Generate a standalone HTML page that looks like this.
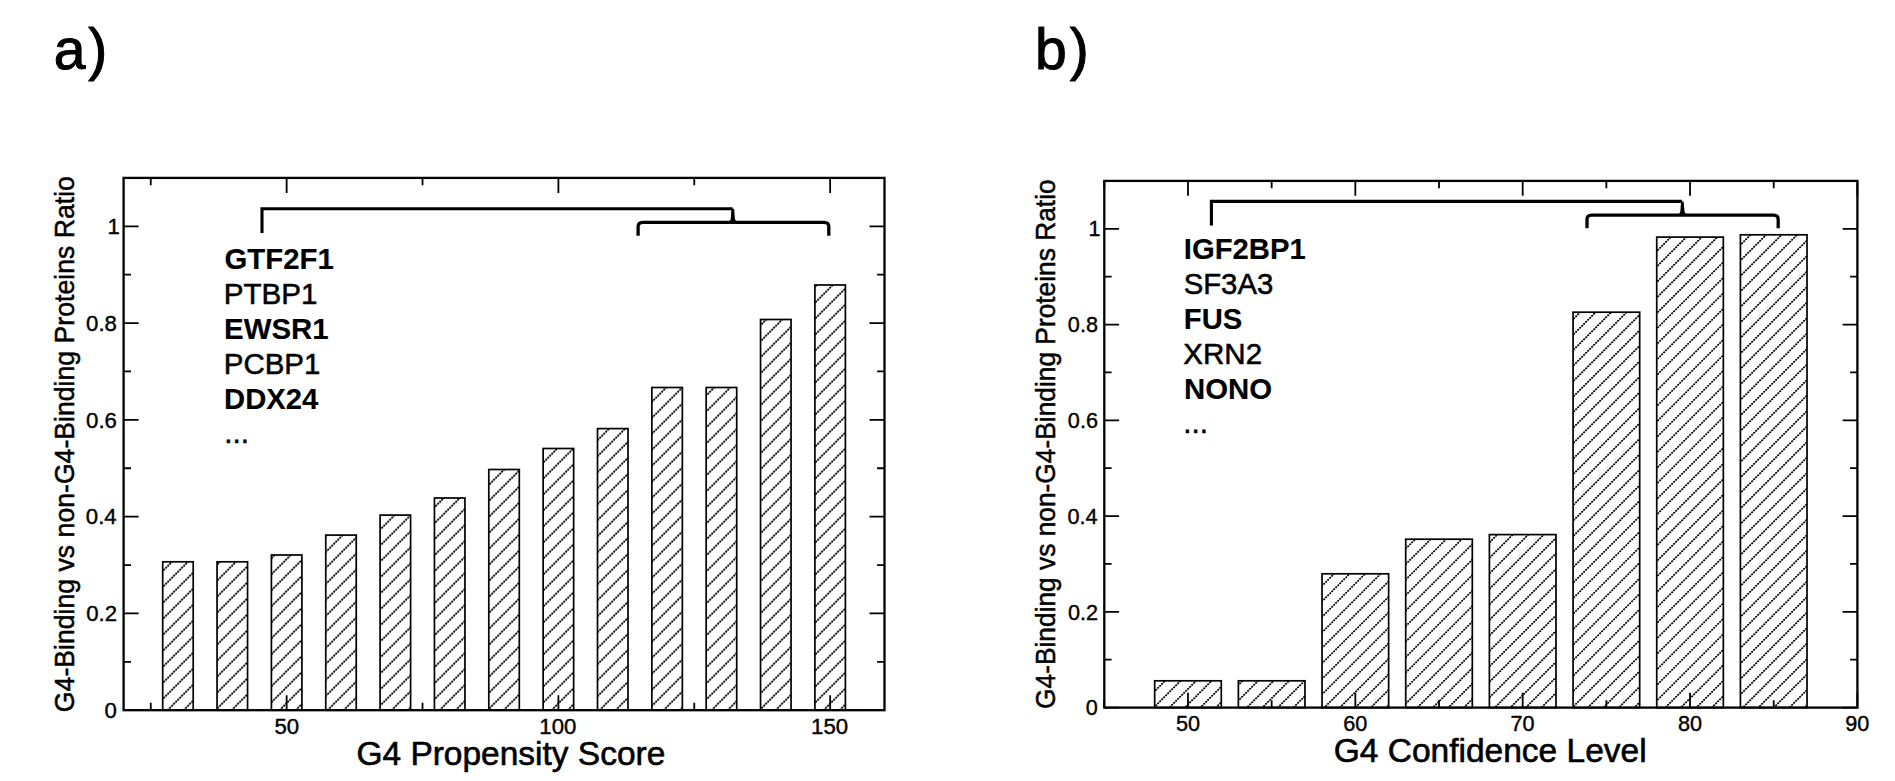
<!DOCTYPE html>
<html lang="en"><head><meta charset="utf-8"><title>G4-binding protein ratios</title>
<style>html,body{margin:0;padding:0;background:#fff}body{width:1895px;height:781px;overflow:hidden}svg{display:block}text{fill:#000;stroke:#000;stroke-linejoin:round}</style>
</head><body>
<svg width="1895" height="781" viewBox="0 0 1895 781" font-family="'Liberation Sans', Arial, Helvetica, sans-serif">
<rect width="1895" height="781" fill="#fff"/>
<clipPath id="clipA">
<rect x="162.70" y="561.80" width="30.50" height="148.40"/>
<rect x="217.05" y="561.80" width="30.50" height="148.40"/>
<rect x="271.40" y="555.00" width="30.50" height="155.20"/>
<rect x="325.75" y="535.10" width="30.50" height="175.10"/>
<rect x="380.10" y="515.10" width="30.50" height="195.10"/>
<rect x="434.45" y="498.00" width="30.50" height="212.20"/>
<rect x="488.80" y="469.50" width="30.50" height="240.70"/>
<rect x="543.15" y="448.50" width="30.50" height="261.70"/>
<rect x="597.50" y="428.60" width="30.50" height="281.60"/>
<rect x="651.85" y="387.50" width="30.50" height="322.70"/>
<rect x="706.20" y="387.50" width="30.50" height="322.70"/>
<rect x="760.55" y="319.50" width="30.50" height="390.70"/>
<rect x="814.90" y="285.00" width="30.50" height="425.20"/>
</clipPath>
<g clip-path="url(#clipA)" stroke="#000" stroke-width="1.85" stroke-linecap="round" stroke-dasharray="0.4 2.4284" fill="none">
<path d="M160.00 573.80L174.00 559.80"/>
<path d="M160.00 589.80L190.00 559.80"/>
<path d="M160.00 605.80L195.20 570.60"/>
<path d="M160.00 621.80L195.20 586.60"/>
<path d="M160.00 637.80L195.20 602.60"/>
<path d="M160.00 653.80L195.20 618.60"/>
<path d="M160.00 669.80L195.20 634.60"/>
<path d="M160.00 685.80L195.20 650.60"/>
<path d="M160.00 701.80L195.20 666.60"/>
<path d="M164.00 713.80L195.20 682.60"/>
<path d="M180.00 713.80L195.20 698.60"/>
<path d="M214.00 567.80L222.00 559.80"/>
<path d="M214.00 583.80L238.00 559.80"/>
<path d="M214.00 599.80L249.55 564.25"/>
<path d="M214.00 615.80L249.55 580.25"/>
<path d="M214.00 631.80L249.55 596.25"/>
<path d="M214.00 647.80L249.55 612.25"/>
<path d="M214.00 663.80L249.55 628.25"/>
<path d="M214.00 679.80L249.55 644.25"/>
<path d="M214.00 695.80L249.55 660.25"/>
<path d="M214.00 711.80L249.55 676.25"/>
<path d="M228.00 713.80L249.55 692.25"/>
<path d="M268.00 561.80L276.80 553.00"/>
<path d="M268.00 577.80L292.80 553.00"/>
<path d="M268.00 593.80L303.90 557.90"/>
<path d="M268.00 609.80L303.90 573.90"/>
<path d="M268.00 625.80L303.90 589.90"/>
<path d="M268.00 641.80L303.90 605.90"/>
<path d="M268.00 657.80L303.90 621.90"/>
<path d="M268.00 673.80L303.90 637.90"/>
<path d="M268.00 689.80L303.90 653.90"/>
<path d="M268.00 705.80L303.90 669.90"/>
<path d="M276.00 713.80L303.90 685.90"/>
<path d="M292.00 713.80L303.90 701.90"/>
<path d="M322.00 539.80L328.70 533.10"/>
<path d="M322.00 555.80L344.70 533.10"/>
<path d="M322.00 571.80L358.25 535.55"/>
<path d="M322.00 587.80L358.25 551.55"/>
<path d="M322.00 603.80L358.25 567.55"/>
<path d="M322.00 619.80L358.25 583.55"/>
<path d="M322.00 635.80L358.25 599.55"/>
<path d="M322.00 651.80L358.25 615.55"/>
<path d="M322.00 667.80L358.25 631.55"/>
<path d="M322.00 683.80L358.25 647.55"/>
<path d="M322.00 699.80L358.25 663.55"/>
<path d="M324.00 713.80L358.25 679.55"/>
<path d="M340.00 713.80L358.25 695.55"/>
<path d="M378.00 531.80L396.70 513.10"/>
<path d="M378.00 547.80L412.60 513.20"/>
<path d="M378.00 563.80L412.60 529.20"/>
<path d="M378.00 579.80L412.60 545.20"/>
<path d="M378.00 595.80L412.60 561.20"/>
<path d="M378.00 611.80L412.60 577.20"/>
<path d="M378.00 627.80L412.60 593.20"/>
<path d="M378.00 643.80L412.60 609.20"/>
<path d="M378.00 659.80L412.60 625.20"/>
<path d="M378.00 675.80L412.60 641.20"/>
<path d="M378.00 691.80L412.60 657.20"/>
<path d="M378.00 707.80L412.60 673.20"/>
<path d="M388.00 713.80L412.60 689.20"/>
<path d="M404.00 713.80L412.60 705.20"/>
<path d="M432.00 509.80L445.80 496.00"/>
<path d="M432.00 525.80L461.80 496.00"/>
<path d="M432.00 541.80L466.95 506.85"/>
<path d="M432.00 557.80L466.95 522.85"/>
<path d="M432.00 573.80L466.95 538.85"/>
<path d="M432.00 589.80L466.95 554.85"/>
<path d="M432.00 605.80L466.95 570.85"/>
<path d="M432.00 621.80L466.95 586.85"/>
<path d="M432.00 637.80L466.95 602.85"/>
<path d="M432.00 653.80L466.95 618.85"/>
<path d="M432.00 669.80L466.95 634.85"/>
<path d="M432.00 685.80L466.95 650.85"/>
<path d="M432.00 701.80L466.95 666.85"/>
<path d="M436.00 713.80L466.95 682.85"/>
<path d="M452.00 713.80L466.95 698.85"/>
<path d="M486.00 487.80L506.30 467.50"/>
<path d="M486.00 503.80L521.30 468.50"/>
<path d="M486.00 519.80L521.30 484.50"/>
<path d="M486.00 535.80L521.30 500.50"/>
<path d="M486.00 551.80L521.30 516.50"/>
<path d="M486.00 567.80L521.30 532.50"/>
<path d="M486.00 583.80L521.30 548.50"/>
<path d="M486.00 599.80L521.30 564.50"/>
<path d="M486.00 615.80L521.30 580.50"/>
<path d="M486.00 631.80L521.30 596.50"/>
<path d="M486.00 647.80L521.30 612.50"/>
<path d="M486.00 663.80L521.30 628.50"/>
<path d="M486.00 679.80L521.30 644.50"/>
<path d="M486.00 695.80L521.30 660.50"/>
<path d="M486.00 711.80L521.30 676.50"/>
<path d="M500.00 713.80L521.30 692.50"/>
<path d="M540.00 465.80L559.30 446.50"/>
<path d="M540.00 481.80L575.30 446.50"/>
<path d="M540.00 497.80L575.65 462.15"/>
<path d="M540.00 513.80L575.65 478.15"/>
<path d="M540.00 529.80L575.65 494.15"/>
<path d="M540.00 545.80L575.65 510.15"/>
<path d="M540.00 561.80L575.65 526.15"/>
<path d="M540.00 577.80L575.65 542.15"/>
<path d="M540.00 593.80L575.65 558.15"/>
<path d="M540.00 609.80L575.65 574.15"/>
<path d="M540.00 625.80L575.65 590.15"/>
<path d="M540.00 641.80L575.65 606.15"/>
<path d="M540.00 657.80L575.65 622.15"/>
<path d="M540.00 673.80L575.65 638.15"/>
<path d="M540.00 689.80L575.65 654.15"/>
<path d="M540.00 705.80L575.65 670.15"/>
<path d="M548.00 713.80L575.65 686.15"/>
<path d="M564.00 713.80L575.65 702.15"/>
<path d="M594.00 443.80L611.20 426.60"/>
<path d="M594.00 459.80L627.20 426.60"/>
<path d="M594.00 475.80L630.00 439.80"/>
<path d="M594.00 491.80L630.00 455.80"/>
<path d="M594.00 507.80L630.00 471.80"/>
<path d="M594.00 523.80L630.00 487.80"/>
<path d="M594.00 539.80L630.00 503.80"/>
<path d="M594.00 555.80L630.00 519.80"/>
<path d="M594.00 571.80L630.00 535.80"/>
<path d="M594.00 587.80L630.00 551.80"/>
<path d="M594.00 603.80L630.00 567.80"/>
<path d="M594.00 619.80L630.00 583.80"/>
<path d="M594.00 635.80L630.00 599.80"/>
<path d="M594.00 651.80L630.00 615.80"/>
<path d="M594.00 667.80L630.00 631.80"/>
<path d="M594.00 683.80L630.00 647.80"/>
<path d="M594.00 699.80L630.00 663.80"/>
<path d="M596.00 713.80L630.00 679.80"/>
<path d="M612.00 713.80L630.00 695.80"/>
<path d="M648.00 405.80L668.30 385.50"/>
<path d="M648.00 421.80L684.30 385.50"/>
<path d="M648.00 437.80L684.35 401.45"/>
<path d="M648.00 453.80L684.35 417.45"/>
<path d="M648.00 469.80L684.35 433.45"/>
<path d="M648.00 485.80L684.35 449.45"/>
<path d="M648.00 501.80L684.35 465.45"/>
<path d="M648.00 517.80L684.35 481.45"/>
<path d="M648.00 533.80L684.35 497.45"/>
<path d="M648.00 549.80L684.35 513.45"/>
<path d="M648.00 565.80L684.35 529.45"/>
<path d="M648.00 581.80L684.35 545.45"/>
<path d="M648.00 597.80L684.35 561.45"/>
<path d="M648.00 613.80L684.35 577.45"/>
<path d="M648.00 629.80L684.35 593.45"/>
<path d="M648.00 645.80L684.35 609.45"/>
<path d="M648.00 661.80L684.35 625.45"/>
<path d="M648.00 677.80L684.35 641.45"/>
<path d="M648.00 693.80L684.35 657.45"/>
<path d="M648.00 709.80L684.35 673.45"/>
<path d="M660.00 713.80L684.35 689.45"/>
<path d="M676.00 713.80L684.35 705.45"/>
<path d="M704.00 397.80L716.30 385.50"/>
<path d="M704.00 413.80L732.30 385.50"/>
<path d="M704.00 429.80L738.70 395.10"/>
<path d="M704.00 445.80L738.70 411.10"/>
<path d="M704.00 461.80L738.70 427.10"/>
<path d="M704.00 477.80L738.70 443.10"/>
<path d="M704.00 493.80L738.70 459.10"/>
<path d="M704.00 509.80L738.70 475.10"/>
<path d="M704.00 525.80L738.70 491.10"/>
<path d="M704.00 541.80L738.70 507.10"/>
<path d="M704.00 557.80L738.70 523.10"/>
<path d="M704.00 573.80L738.70 539.10"/>
<path d="M704.00 589.80L738.70 555.10"/>
<path d="M704.00 605.80L738.70 571.10"/>
<path d="M704.00 621.80L738.70 587.10"/>
<path d="M704.00 637.80L738.70 603.10"/>
<path d="M704.00 653.80L738.70 619.10"/>
<path d="M704.00 669.80L738.70 635.10"/>
<path d="M704.00 685.80L738.70 651.10"/>
<path d="M704.00 701.80L738.70 667.10"/>
<path d="M708.00 713.80L738.70 683.10"/>
<path d="M724.00 713.80L738.70 699.10"/>
<path d="M758.00 327.80L768.30 317.50"/>
<path d="M758.00 343.80L784.30 317.50"/>
<path d="M758.00 359.80L793.05 324.75"/>
<path d="M758.00 375.80L793.05 340.75"/>
<path d="M758.00 391.80L793.05 356.75"/>
<path d="M758.00 407.80L793.05 372.75"/>
<path d="M758.00 423.80L793.05 388.75"/>
<path d="M758.00 439.80L793.05 404.75"/>
<path d="M758.00 455.80L793.05 420.75"/>
<path d="M758.00 471.80L793.05 436.75"/>
<path d="M758.00 487.80L793.05 452.75"/>
<path d="M758.00 503.80L793.05 468.75"/>
<path d="M758.00 519.80L793.05 484.75"/>
<path d="M758.00 535.80L793.05 500.75"/>
<path d="M758.00 551.80L793.05 516.75"/>
<path d="M758.00 567.80L793.05 532.75"/>
<path d="M758.00 583.80L793.05 548.75"/>
<path d="M758.00 599.80L793.05 564.75"/>
<path d="M758.00 615.80L793.05 580.75"/>
<path d="M758.00 631.80L793.05 596.75"/>
<path d="M758.00 647.80L793.05 612.75"/>
<path d="M758.00 663.80L793.05 628.75"/>
<path d="M758.00 679.80L793.05 644.75"/>
<path d="M758.00 695.80L793.05 660.75"/>
<path d="M758.00 711.80L793.05 676.75"/>
<path d="M772.00 713.80L793.05 692.75"/>
<path d="M812.00 289.80L818.80 283.00"/>
<path d="M812.00 305.80L834.80 283.00"/>
<path d="M812.00 321.80L847.40 286.40"/>
<path d="M812.00 337.80L847.40 302.40"/>
<path d="M812.00 353.80L847.40 318.40"/>
<path d="M812.00 369.80L847.40 334.40"/>
<path d="M812.00 385.80L847.40 350.40"/>
<path d="M812.00 401.80L847.40 366.40"/>
<path d="M812.00 417.80L847.40 382.40"/>
<path d="M812.00 433.80L847.40 398.40"/>
<path d="M812.00 449.80L847.40 414.40"/>
<path d="M812.00 465.80L847.40 430.40"/>
<path d="M812.00 481.80L847.40 446.40"/>
<path d="M812.00 497.80L847.40 462.40"/>
<path d="M812.00 513.80L847.40 478.40"/>
<path d="M812.00 529.80L847.40 494.40"/>
<path d="M812.00 545.80L847.40 510.40"/>
<path d="M812.00 561.80L847.40 526.40"/>
<path d="M812.00 577.80L847.40 542.40"/>
<path d="M812.00 593.80L847.40 558.40"/>
<path d="M812.00 609.80L847.40 574.40"/>
<path d="M812.00 625.80L847.40 590.40"/>
<path d="M812.00 641.80L847.40 606.40"/>
<path d="M812.00 657.80L847.40 622.40"/>
<path d="M812.00 673.80L847.40 638.40"/>
<path d="M812.00 689.80L847.40 654.40"/>
<path d="M812.00 705.80L847.40 670.40"/>
<path d="M820.00 713.80L847.40 686.40"/>
<path d="M836.00 713.80L847.40 702.40"/>
</g>
<g fill="none" stroke="#000" stroke-width="1.7">
<rect x="162.70" y="561.80" width="30.50" height="148.40"/>
<rect x="217.05" y="561.80" width="30.50" height="148.40"/>
<rect x="271.40" y="555.00" width="30.50" height="155.20"/>
<rect x="325.75" y="535.10" width="30.50" height="175.10"/>
<rect x="380.10" y="515.10" width="30.50" height="195.10"/>
<rect x="434.45" y="498.00" width="30.50" height="212.20"/>
<rect x="488.80" y="469.50" width="30.50" height="240.70"/>
<rect x="543.15" y="448.50" width="30.50" height="261.70"/>
<rect x="597.50" y="428.60" width="30.50" height="281.60"/>
<rect x="651.85" y="387.50" width="30.50" height="322.70"/>
<rect x="706.20" y="387.50" width="30.50" height="322.70"/>
<rect x="760.55" y="319.50" width="30.50" height="390.70"/>
<rect x="814.90" y="285.00" width="30.50" height="425.20"/>
</g>
<path d="M286.65 710.20v-15.0M286.65 177.90v15.0M558.40 710.20v-15.0M558.40 177.90v15.0M830.15 710.20v-15.0M830.15 177.90v15.0M150.77 710.20v-7.4M150.77 177.90v7.4M422.52 710.20v-7.4M422.52 177.90v7.4M694.27 710.20v-7.4M694.27 177.90v7.4M123.60 710.20h15.0M884.50 710.20h-15.0M123.60 661.81h7.4M884.50 661.81h-7.4M123.60 613.42h15.0M884.50 613.42h-15.0M123.60 565.03h7.4M884.50 565.03h-7.4M123.60 516.64h15.0M884.50 516.64h-15.0M123.60 468.25h7.4M884.50 468.25h-7.4M123.60 419.85h15.0M884.50 419.85h-15.0M123.60 371.46h7.4M884.50 371.46h-7.4M123.60 323.07h15.0M884.50 323.07h-15.0M123.60 274.68h7.4M884.50 274.68h-7.4M123.60 226.29h15.0M884.50 226.29h-15.0M123.60 177.90h7.4M884.50 177.90h-7.4" stroke="#000" stroke-width="1.8" fill="none"/>
<rect x="123.60" y="177.90" width="760.90" height="532.30" fill="none" stroke="#000" stroke-width="2.3"/>
<clipPath id="clipB">
<rect x="1154.68" y="680.80" width="66.60" height="26.80"/>
<rect x="1238.36" y="680.80" width="66.60" height="26.80"/>
<rect x="1322.03" y="573.80" width="66.60" height="133.80"/>
<rect x="1405.71" y="539.20" width="66.60" height="168.40"/>
<rect x="1489.39" y="534.60" width="66.60" height="173.00"/>
<rect x="1573.07" y="312.20" width="66.60" height="395.40"/>
<rect x="1656.74" y="237.10" width="66.60" height="470.50"/>
<rect x="1740.42" y="234.80" width="66.60" height="472.80"/>
</clipPath>
<g clip-path="url(#clipB)" stroke="#000" stroke-width="1.85" stroke-linecap="round" stroke-dasharray="0.4 2.4284" fill="none">
<path d="M1152.00 693.95L1167.15 678.80"/>
<path d="M1152.00 709.45L1182.65 678.80"/>
<path d="M1166.00 710.95L1198.15 678.80"/>
<path d="M1182.00 710.45L1213.65 678.80"/>
<path d="M1198.00 709.95L1223.28 684.67"/>
<path d="M1212.00 711.45L1223.28 700.17"/>
<path d="M1236.00 687.45L1244.65 678.80"/>
<path d="M1236.00 702.95L1260.15 678.80"/>
<path d="M1244.00 710.45L1275.65 678.80"/>
<path d="M1260.00 709.95L1291.15 678.80"/>
<path d="M1274.00 711.45L1306.65 678.80"/>
<path d="M1290.00 710.95L1306.96 693.99"/>
<path d="M1320.00 587.95L1336.15 571.80"/>
<path d="M1320.00 603.45L1351.65 571.80"/>
<path d="M1320.00 618.95L1367.15 571.80"/>
<path d="M1320.00 634.45L1382.65 571.80"/>
<path d="M1320.00 649.95L1390.63 579.32"/>
<path d="M1320.00 665.45L1390.63 594.82"/>
<path d="M1320.00 680.95L1390.63 610.32"/>
<path d="M1320.00 696.45L1390.63 625.82"/>
<path d="M1322.00 709.95L1390.63 641.32"/>
<path d="M1336.00 711.45L1390.63 656.82"/>
<path d="M1352.00 710.95L1390.63 672.32"/>
<path d="M1368.00 710.45L1390.63 687.82"/>
<path d="M1384.00 709.95L1390.63 703.32"/>
<path d="M1402.00 552.45L1417.25 537.20"/>
<path d="M1402.00 567.95L1432.75 537.20"/>
<path d="M1402.00 583.45L1448.25 537.20"/>
<path d="M1402.00 598.95L1463.75 537.20"/>
<path d="M1402.00 614.45L1474.31 542.14"/>
<path d="M1402.00 629.95L1474.31 557.64"/>
<path d="M1402.00 645.45L1474.31 573.14"/>
<path d="M1402.00 660.95L1474.31 588.64"/>
<path d="M1402.00 676.45L1474.31 604.14"/>
<path d="M1402.00 691.95L1474.31 619.64"/>
<path d="M1402.00 707.45L1474.31 635.14"/>
<path d="M1414.00 710.95L1474.31 650.64"/>
<path d="M1430.00 710.45L1474.31 666.14"/>
<path d="M1446.00 709.95L1474.31 681.64"/>
<path d="M1460.00 711.45L1474.31 697.14"/>
<path d="M1486.00 545.95L1499.35 532.60"/>
<path d="M1486.00 561.45L1514.85 532.60"/>
<path d="M1486.00 576.95L1530.35 532.60"/>
<path d="M1486.00 592.45L1545.85 532.60"/>
<path d="M1486.00 607.95L1557.99 535.96"/>
<path d="M1486.00 623.45L1557.99 551.46"/>
<path d="M1486.00 638.95L1557.99 566.96"/>
<path d="M1486.00 654.45L1557.99 582.46"/>
<path d="M1486.00 669.95L1557.99 597.96"/>
<path d="M1486.00 685.45L1557.99 613.46"/>
<path d="M1486.00 700.95L1557.99 628.96"/>
<path d="M1492.00 710.45L1557.99 644.46"/>
<path d="M1508.00 709.95L1557.99 659.96"/>
<path d="M1522.00 711.45L1557.99 675.46"/>
<path d="M1538.00 710.95L1557.99 690.96"/>
<path d="M1570.00 322.45L1582.25 310.20"/>
<path d="M1570.00 337.95L1597.75 310.20"/>
<path d="M1570.00 353.45L1613.25 310.20"/>
<path d="M1570.00 368.95L1628.75 310.20"/>
<path d="M1570.00 384.45L1641.67 312.78"/>
<path d="M1570.00 399.95L1641.67 328.28"/>
<path d="M1570.00 415.45L1641.67 343.78"/>
<path d="M1570.00 430.95L1641.67 359.28"/>
<path d="M1570.00 446.45L1641.67 374.78"/>
<path d="M1570.00 461.95L1641.67 390.28"/>
<path d="M1570.00 477.45L1641.67 405.78"/>
<path d="M1570.00 492.95L1641.67 421.28"/>
<path d="M1570.00 508.45L1641.67 436.78"/>
<path d="M1570.00 523.95L1641.67 452.28"/>
<path d="M1570.00 539.45L1641.67 467.78"/>
<path d="M1570.00 554.95L1641.67 483.28"/>
<path d="M1570.00 570.45L1641.67 498.78"/>
<path d="M1570.00 585.95L1641.67 514.28"/>
<path d="M1570.00 601.45L1641.67 529.78"/>
<path d="M1570.00 616.95L1641.67 545.28"/>
<path d="M1570.00 632.45L1641.67 560.78"/>
<path d="M1570.00 647.95L1641.67 576.28"/>
<path d="M1570.00 663.45L1641.67 591.78"/>
<path d="M1570.00 678.95L1641.67 607.28"/>
<path d="M1570.00 694.45L1641.67 622.78"/>
<path d="M1570.00 709.95L1641.67 638.28"/>
<path d="M1584.00 711.45L1641.67 653.78"/>
<path d="M1600.00 710.95L1641.67 669.28"/>
<path d="M1616.00 710.45L1641.67 684.78"/>
<path d="M1632.00 709.95L1641.67 700.28"/>
<path d="M1654.00 253.95L1672.85 235.10"/>
<path d="M1654.00 269.45L1688.35 235.10"/>
<path d="M1654.00 284.95L1703.85 235.10"/>
<path d="M1654.00 300.45L1719.35 235.10"/>
<path d="M1654.00 315.95L1725.34 244.61"/>
<path d="M1654.00 331.45L1725.34 260.11"/>
<path d="M1654.00 346.95L1725.34 275.61"/>
<path d="M1654.00 362.45L1725.34 291.11"/>
<path d="M1654.00 377.95L1725.34 306.61"/>
<path d="M1654.00 393.45L1725.34 322.11"/>
<path d="M1654.00 408.95L1725.34 337.61"/>
<path d="M1654.00 424.45L1725.34 353.11"/>
<path d="M1654.00 439.95L1725.34 368.61"/>
<path d="M1654.00 455.45L1725.34 384.11"/>
<path d="M1654.00 470.95L1725.34 399.61"/>
<path d="M1654.00 486.45L1725.34 415.11"/>
<path d="M1654.00 501.95L1725.34 430.61"/>
<path d="M1654.00 517.45L1725.34 446.11"/>
<path d="M1654.00 532.95L1725.34 461.61"/>
<path d="M1654.00 548.45L1725.34 477.11"/>
<path d="M1654.00 563.95L1725.34 492.61"/>
<path d="M1654.00 579.45L1725.34 508.11"/>
<path d="M1654.00 594.95L1725.34 523.61"/>
<path d="M1654.00 610.45L1725.34 539.11"/>
<path d="M1654.00 625.95L1725.34 554.61"/>
<path d="M1654.00 641.45L1725.34 570.11"/>
<path d="M1654.00 656.95L1725.34 585.61"/>
<path d="M1654.00 672.45L1725.34 601.11"/>
<path d="M1654.00 687.95L1725.34 616.61"/>
<path d="M1654.00 703.45L1725.34 632.11"/>
<path d="M1662.00 710.95L1725.34 647.61"/>
<path d="M1678.00 710.45L1725.34 663.11"/>
<path d="M1694.00 709.95L1725.34 678.61"/>
<path d="M1708.00 711.45L1725.34 694.11"/>
<path d="M1738.00 247.45L1752.65 232.80"/>
<path d="M1738.00 262.95L1768.15 232.80"/>
<path d="M1738.00 278.45L1783.65 232.80"/>
<path d="M1738.00 293.95L1799.15 232.80"/>
<path d="M1738.00 309.45L1809.02 238.43"/>
<path d="M1738.00 324.95L1809.02 253.93"/>
<path d="M1738.00 340.45L1809.02 269.43"/>
<path d="M1738.00 355.95L1809.02 284.93"/>
<path d="M1738.00 371.45L1809.02 300.43"/>
<path d="M1738.00 386.95L1809.02 315.93"/>
<path d="M1738.00 402.45L1809.02 331.43"/>
<path d="M1738.00 417.95L1809.02 346.93"/>
<path d="M1738.00 433.45L1809.02 362.43"/>
<path d="M1738.00 448.95L1809.02 377.93"/>
<path d="M1738.00 464.45L1809.02 393.43"/>
<path d="M1738.00 479.95L1809.02 408.93"/>
<path d="M1738.00 495.45L1809.02 424.43"/>
<path d="M1738.00 510.95L1809.02 439.93"/>
<path d="M1738.00 526.45L1809.02 455.43"/>
<path d="M1738.00 541.95L1809.02 470.93"/>
<path d="M1738.00 557.45L1809.02 486.43"/>
<path d="M1738.00 572.95L1809.02 501.93"/>
<path d="M1738.00 588.45L1809.02 517.43"/>
<path d="M1738.00 603.95L1809.02 532.93"/>
<path d="M1738.00 619.45L1809.02 548.43"/>
<path d="M1738.00 634.95L1809.02 563.93"/>
<path d="M1738.00 650.45L1809.02 579.43"/>
<path d="M1738.00 665.95L1809.02 594.93"/>
<path d="M1738.00 681.45L1809.02 610.43"/>
<path d="M1738.00 696.95L1809.02 625.93"/>
<path d="M1740.00 710.45L1809.02 641.43"/>
<path d="M1756.00 709.95L1809.02 656.93"/>
<path d="M1770.00 711.45L1809.02 672.43"/>
<path d="M1786.00 710.95L1809.02 687.93"/>
<path d="M1802.00 710.45L1809.02 703.43"/>
</g>
<g fill="none" stroke="#000" stroke-width="1.7">
<rect x="1154.68" y="680.80" width="66.60" height="26.80"/>
<rect x="1238.36" y="680.80" width="66.60" height="26.80"/>
<rect x="1322.03" y="573.80" width="66.60" height="133.80"/>
<rect x="1405.71" y="539.20" width="66.60" height="168.40"/>
<rect x="1489.39" y="534.60" width="66.60" height="173.00"/>
<rect x="1573.07" y="312.20" width="66.60" height="395.40"/>
<rect x="1656.74" y="237.10" width="66.60" height="470.50"/>
<rect x="1740.42" y="234.80" width="66.60" height="472.80"/>
</g>
<path d="M1187.98 707.60v-14.8M1187.98 180.90v14.8M1355.33 707.60v-14.8M1355.33 180.90v14.8M1522.69 707.60v-14.8M1522.69 180.90v14.8M1690.04 707.60v-14.8M1690.04 180.90v14.8M1857.40 707.60v-14.8M1857.40 180.90v14.8M1104.30 707.60v-7.3M1104.30 180.90v7.3M1271.66 707.60v-7.3M1271.66 180.90v7.3M1439.01 707.60v-7.3M1439.01 180.90v7.3M1606.37 707.60v-7.3M1606.37 180.90v7.3M1773.72 707.60v-7.3M1773.72 180.90v7.3M1104.30 707.60h14.8M1857.40 707.60h-14.8M1104.30 659.72h7.3M1857.40 659.72h-7.3M1104.30 611.84h14.8M1857.40 611.84h-14.8M1104.30 563.95h7.3M1857.40 563.95h-7.3M1104.30 516.07h14.8M1857.40 516.07h-14.8M1104.30 468.19h7.3M1857.40 468.19h-7.3M1104.30 420.31h14.8M1857.40 420.31h-14.8M1104.30 372.43h7.3M1857.40 372.43h-7.3M1104.30 324.55h14.8M1857.40 324.55h-14.8M1104.30 276.66h7.3M1857.40 276.66h-7.3M1104.30 228.78h14.8M1857.40 228.78h-14.8M1104.30 180.90h7.3M1857.40 180.90h-7.3" stroke="#000" stroke-width="1.8" fill="none"/>
<rect x="1104.30" y="180.90" width="753.10" height="526.70" fill="none" stroke="#000" stroke-width="2.3"/>
<path d="M262.0 233.0V208.75H732.55" fill="none" stroke="#000" stroke-width="3.1" stroke-linejoin="miter" stroke-linecap="butt"/>
<path d="M638.1 235.8V226.8Q638.1 222.3 642.6 222.3H824.3Q828.8 222.3 828.8 226.8V235.8" fill="none" stroke="#000" stroke-width="3.3000000000000003"/>
<path d="M731.4 208.75H734.1L734.88 218.85Q735.30 220.65 736.50 221.05H729.30Q730.50 220.65 730.81 218.85Z" fill="#000"/>
<path d="M1211.4 225.6V201.4H1682.05" fill="none" stroke="#000" stroke-width="3.1" stroke-linejoin="miter" stroke-linecap="butt"/>
<path d="M1587.0 228.3V219.7Q1587.0 215.2 1591.5 215.2H1773.7Q1778.2 215.2 1778.2 219.7V228.3" fill="none" stroke="#000" stroke-width="3.3000000000000003"/>
<path d="M1681.1 201.4H1683.6L1684.57 211.75Q1685.10 213.55 1686.30 213.95H1678.60Q1679.80 213.55 1680.26 211.75Z" fill="#000"/>
<text font-size="57.1" stroke-width="1.03" y="68.8"><tspan x="53.67">a</tspan><tspan x="88.13">)</tspan></text>
<text font-size="57.1" stroke-width="1.03" y="68.8"><tspan x="1035.02">b</tspan><tspan x="1069.83">)</tspan></text>
<text transform="translate(356.42,764.80) scale(0.9849,1)" font-size="34.0" stroke-width="0.61">G4 Propensity Score</text>
<text transform="translate(1333.81,761.80) scale(0.9913,1)" font-size="33.8" stroke-width="0.61">G4 Confidence Level</text>
<text transform="translate(73.90,712.14) rotate(-90) scale(0.9351,1)" font-size="28.5" stroke-width="0.51">G4-Binding vs non-G4-Binding Proteins Ratio</text>
<text transform="translate(1054.90,708.92) rotate(-90) scale(0.9339,1)" font-size="28.2" stroke-width="0.51">G4-Binding vs non-G4-Binding Proteins Ratio</text>
<text transform="translate(274.49,733.90) scale(1.0000,1)" font-size="22.2" stroke-width="0.40">50</text>
<text transform="translate(539.31,733.90) scale(1.0000,1)" font-size="22.2" stroke-width="0.40">100</text>
<text transform="translate(811.06,733.90) scale(1.0000,1)" font-size="22.2" stroke-width="0.40">150</text>
<text transform="translate(1175.93,730.80) scale(1.0000,1)" font-size="21.645" stroke-width="0.39">50</text>
<text transform="translate(1343.17,730.80) scale(1.0000,1)" font-size="21.645" stroke-width="0.39">60</text>
<text transform="translate(1510.52,730.80) scale(1.0000,1)" font-size="21.645" stroke-width="0.39">70</text>
<text transform="translate(1677.96,730.80) scale(1.0000,1)" font-size="21.645" stroke-width="0.39">80</text>
<text transform="translate(1845.28,730.80) scale(1.0000,1)" font-size="21.645" stroke-width="0.39">90</text>
<text transform="translate(104.52,718.00) scale(1.0000,1)" font-size="22.2" stroke-width="0.40">0</text>
<text transform="translate(1085.81,715.30) scale(1.0000,1)" font-size="21.645" stroke-width="0.39">0</text>
<text transform="translate(86.26,621.22) scale(1.0000,1)" font-size="22.2" stroke-width="0.40">0.2</text>
<text transform="translate(1068.00,619.54) scale(1.0000,1)" font-size="21.645" stroke-width="0.39">0.2</text>
<text transform="translate(85.79,524.44) scale(1.0000,1)" font-size="22.2" stroke-width="0.40">0.4</text>
<text transform="translate(1067.54,523.77) scale(1.0000,1)" font-size="21.645" stroke-width="0.39">0.4</text>
<text transform="translate(86.11,427.65) scale(1.0000,1)" font-size="22.2" stroke-width="0.40">0.6</text>
<text transform="translate(1067.86,428.01) scale(1.0000,1)" font-size="21.645" stroke-width="0.39">0.6</text>
<text transform="translate(86.10,330.87) scale(1.0000,1)" font-size="22.2" stroke-width="0.40">0.8</text>
<text transform="translate(1067.85,332.25) scale(1.0000,1)" font-size="21.645" stroke-width="0.39">0.8</text>
<text transform="translate(107.54,234.09) scale(1.0000,1)" font-size="22.2" stroke-width="0.40">1</text>
<text transform="translate(1088.42,236.48) scale(1.0000,1)" font-size="21.645" stroke-width="0.39">1</text>
<text transform="translate(224.39,268.60) scale(0.9703,1)" font-size="30.3" stroke-width="0.14" font-weight="bold">GTF2F1</text>
<text transform="translate(223.77,303.60) scale(0.9768,1)" font-size="30.3" stroke-width="0.55">PTBP1</text>
<text transform="translate(224.03,338.60) scale(0.9718,1)" font-size="30.3" stroke-width="0.14" font-weight="bold">EWSR1</text>
<text transform="translate(223.78,373.60) scale(0.9725,1)" font-size="30.3" stroke-width="0.55">PCBP1</text>
<text transform="translate(224.04,408.60) scale(0.9645,1)" font-size="30.3" stroke-width="0.14" font-weight="bold">DDX24</text>
<text transform="translate(224.19,443.00) scale(0.9786,1)" font-size="30.3" stroke-width="0.55">...</text>
<text transform="translate(1183.84,259.00) scale(0.9658,1)" font-size="30.3" stroke-width="0.14" font-weight="bold">IGF2BP1</text>
<text transform="translate(1183.67,294.00) scale(0.9675,1)" font-size="30.3" stroke-width="0.55">SF3A3</text>
<text transform="translate(1183.84,329.00) scale(0.9653,1)" font-size="30.3" stroke-width="0.14" font-weight="bold">FUS</text>
<text transform="translate(1183.34,364.00) scale(0.9743,1)" font-size="30.3" stroke-width="0.55">XRN2</text>
<text transform="translate(1183.93,399.00) scale(0.9703,1)" font-size="30.3" stroke-width="0.14" font-weight="bold">NONO</text>
<text transform="translate(1183.29,433.40) scale(0.9786,1)" font-size="30.3" stroke-width="0.55">...</text>
</svg></body></html>
